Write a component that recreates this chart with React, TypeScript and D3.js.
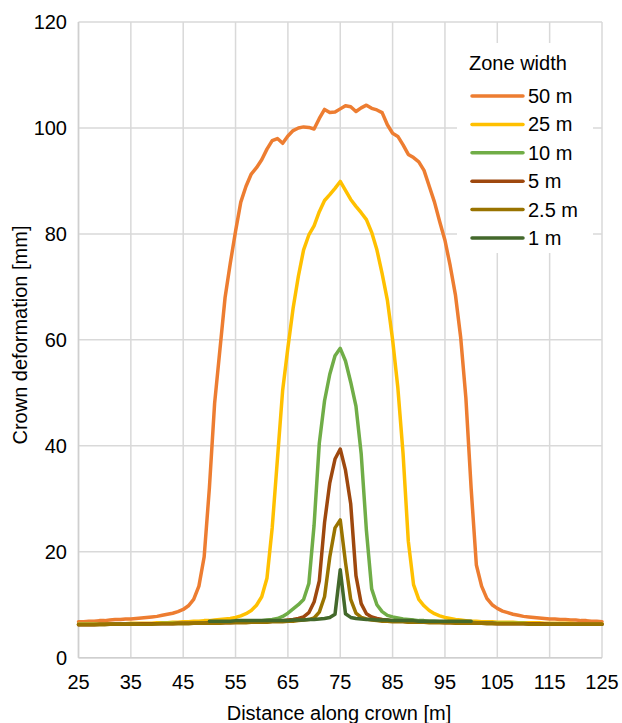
import React from "react";
import * as d3 from "d3";

const xStart = 25;
const xEnd = 125;
const xTicks = [25, 35, 45, 55, 65, 75, 85, 95, 105, 115, 125];
const yTicks = [0, 20, 40, 60, 80, 100, 120];
const seriesNames = ["50 m", "25 m", "10 m", "5 m", "2.5 m", "1 m"];
const seriesColors = ["#ED7D31", "#FFC000", "#70AD47", "#9E480E", "#997300", "#43682B"];

const v50 = [
  6.8, 6.8, 6.9, 6.9, 7.0, 7.0, 7.1, 7.2, 7.2, 7.3,
  7.3, 7.4, 7.5, 7.6, 7.7, 7.8, 8.0, 8.2, 8.4, 8.7,
  9.1, 9.8, 11.0, 13.5, 19.0, 32.0, 48.0, 58.0, 68.0, 74.5,
  80.5, 86.0, 89.0, 91.3, 92.5, 94.0, 96.0, 97.6, 98.0, 97.1,
  98.5, 99.5, 100.0, 100.2, 100.1, 99.8, 101.8, 103.5, 102.9, 103.0,
  103.6, 104.2, 104.0, 103.1, 103.8, 104.3, 103.7, 103.4, 102.9, 100.6,
  99.0, 98.4, 96.8, 95.0, 94.4, 93.6, 92.0, 89.0, 86.0, 82.3,
  78.8, 74.0, 68.5, 60.5, 49.0, 32.0, 17.5, 13.5, 11.2, 10.0,
  9.3, 8.8, 8.5, 8.2, 8.0, 7.8, 7.7, 7.6, 7.5, 7.4,
  7.3, 7.3, 7.2, 7.2, 7.1, 7.1, 7.0, 7.0, 6.9, 6.9,
  6.8,
];

const v25 = [
  6.3, 6.3, 6.3, 6.3, 6.4, 6.4, 6.4, 6.4, 6.4, 6.4,
  6.5, 6.5, 6.5, 6.5, 6.5, 6.6, 6.6, 6.6, 6.7, 6.7,
  6.8, 6.8, 6.9, 6.9, 7.0, 7.0, 7.1, 7.2, 7.3, 7.4,
  7.6, 7.9, 8.3, 8.9, 9.9, 11.5, 15.0, 24.5, 37.5, 50.5,
  58.5, 66.0, 72.0, 77.0, 79.8, 81.5, 84.2, 86.3, 87.4, 88.6,
  89.9, 88.2, 86.5, 85.2, 84.0, 82.7, 80.3, 77.0, 72.5, 67.5,
  60.0, 51.0, 38.5, 22.0, 13.8, 11.0, 9.8, 8.9, 8.3, 7.9,
  7.6, 7.4, 7.2, 7.1, 7.0, 6.9, 6.9, 6.8, 6.8, 6.8,
  6.7, 6.7, 6.7, 6.7, 6.6, 6.6, 6.6, 6.6, 6.6, 6.5,
  6.5, 6.5, 6.5, 6.5, 6.5, 6.4, 6.4, 6.4, 6.4, 6.4,
  6.4,
];

const v10 = [
  6.3, 6.3, 6.3, 6.3, 6.3, 6.3, 6.3, 6.4, 6.4, 6.4,
  6.4, 6.4, 6.4, 6.4, 6.4, 6.4, 6.5, 6.5, 6.5, 6.5,
  6.5, 6.5, 6.5, 6.6, 6.6, 6.6, 6.6, 6.6, 6.7, 6.7,
  6.7, 6.8, 6.8, 6.9, 6.9, 7.0, 7.1, 7.2, 7.4, 7.8,
  8.4, 9.2, 10.0, 11.0, 14.0, 25.0, 40.5, 48.5, 53.5, 57.0,
  58.4, 56.0, 52.0, 47.5, 38.5, 24.0, 13.0, 10.0, 8.7, 8.0,
  7.7, 7.5, 7.3, 7.2, 7.1, 7.0, 7.0, 6.9, 6.9, 6.8,
  6.8, 6.8, 6.7, 6.7, 6.7, 6.7, 6.6, 6.6, 6.6, 6.6,
  6.5, 6.5, 6.5, 6.5, 6.5, 6.5, 6.4, 6.4, 6.4, 6.4,
  6.4, 6.4, 6.4, 6.4, 6.3, 6.3, 6.3, 6.3, 6.3, 6.3,
  6.3,
];

const v5 = [
  6.2, 6.2, 6.2, 6.2, 6.3, 6.3, 6.3, 6.3, 6.3, 6.3,
  6.3, 6.3, 6.4, 6.4, 6.4, 6.4, 6.4, 6.4, 6.4, 6.5,
  6.5, 6.5, 6.5, 6.5, 6.5, 6.6, 6.6, 6.6, 6.6, 6.6,
  6.7, 6.7, 6.7, 6.7, 6.8, 6.8, 6.8, 6.9, 6.9, 7.0,
  7.1, 7.2, 7.4, 7.7, 8.5, 10.5, 14.5, 25.5, 33.0, 37.5,
  39.4, 35.4, 29.0, 15.5, 10.2, 8.3, 7.7, 7.4, 7.2, 7.1,
  7.0, 6.9, 6.9, 6.8, 6.8, 6.8, 6.7, 6.7, 6.7, 6.7,
  6.6, 6.6, 6.6, 6.6, 6.5, 6.5, 6.5, 6.5, 6.5, 6.5,
  6.4, 6.4, 6.4, 6.4, 6.4, 6.4, 6.4, 6.4, 6.4, 6.4,
  6.3, 6.3, 6.3, 6.3, 6.3, 6.3, 6.3, 6.3, 6.3, 6.3,
  6.3,
];

const v2_5 = [
  6.2, 6.2, 6.2, 6.2, 6.2, 6.2, 6.3, 6.3, 6.3, 6.3,
  6.3, 6.3, 6.3, 6.3, 6.3, 6.4, 6.4, 6.4, 6.4, 6.4,
  6.4, 6.4, 6.5, 6.5, 6.5, 6.5, 6.5, 6.5, 6.6, 6.6,
  6.6, 6.6, 6.6, 6.7, 6.7, 6.7, 6.7, 6.8, 6.8, 6.8,
  6.9, 6.9, 7.0, 7.1, 7.2, 7.5, 8.6, 11.5, 19.0, 24.5,
  26.0, 18.0, 11.0, 8.4, 7.6, 7.3, 7.1, 7.0, 6.9, 6.9,
  6.8, 6.8, 6.8, 6.7, 6.7, 6.7, 6.7, 6.6, 6.6, 6.6,
  6.6, 6.6, 6.5, 6.5, 6.5, 6.5, 6.5, 6.5, 6.4, 6.4,
  6.4, 6.4, 6.4, 6.4, 6.4, 6.4, 6.3, 6.3, 6.3, 6.3,
  6.3, 6.3, 6.3, 6.3, 6.3, 6.3, 6.3, 6.3, 6.3, 6.3,
  6.3,
];

const x1Start = 50;
const v1 = [
  6.9, 6.9, 6.9, 6.9, 6.9, 7.0, 7.0, 7.0, 7.0, 7.0,
  7.0, 7.0, 7.0, 7.0, 7.0, 7.0, 7.1, 7.1, 7.1, 7.2,
  7.2, 7.3, 7.4, 7.6, 8.2, 16.6, 8.3, 7.6, 7.4, 7.3,
  7.2, 7.2, 7.1, 7.1, 7.1, 7.0, 7.0, 7.0, 7.0, 7.0,
  6.9, 6.9, 6.9, 6.9, 6.9, 6.9, 6.9, 6.9, 6.9, 6.9,
  6.9,
];

const seriesValues = [v50, v25, v10, v5, v2_5, v1];
const seriesStarts = [xStart, xStart, xStart, xStart, xStart, x1Start];

const W = 622;
const H = 723;
const M = { left: 78.5, right: 602, top: 22, bottom: 657.7 };
const FONT = "'Liberation Sans', Arial, sans-serif";
const FS = 20;

export default function App() {
  const x = d3.scaleLinear().domain([xStart, xEnd]).range([M.left, M.right]);
  const y = d3.scaleLinear().domain([0, 120]).range([M.bottom, M.top]);
  const line = d3
    .line<[number, number]>()
    .x((d) => x(d[0]))
    .y((d) => y(d[1]));

  const legendX = 472;
  const legendY0 = 96;
  const legendDy = 28.4;

  return (
    <svg
      width={W}
      height={H}
      style={{ position: "absolute", left: 0, top: 0, background: "#fff" }}
      fontFamily={FONT}
    >
      <rect x={0} y={0} width={W} height={H} fill="#fff" />
      {xTicks.map((t) => (
        <line key={"gx" + t} x1={x(t)} x2={x(t)} y1={M.top} y2={M.bottom} stroke="#D9D9D9" strokeWidth={1.5} />
      ))}
      {yTicks.map((t) => (
        <line key={"gy" + t} x1={M.left} x2={M.right} y1={y(t)} y2={y(t)} stroke="#D9D9D9" strokeWidth={1.5} />
      ))}
      <line x1={M.left} x2={M.left} y1={M.top} y2={M.bottom} stroke="#CFCFCF" strokeWidth={1.5} />
      <line x1={M.left} x2={M.right} y1={M.bottom} y2={M.bottom} stroke="#CFCFCF" strokeWidth={1.5} />
      {seriesValues.map((vals, i) => {
        const pts: [number, number][] = vals.map((v, j) => [seriesStarts[i] + j, v]);
        return (
          <path
            key={"s" + i}
            d={line(pts) || ""}
            fill="none"
            stroke={seriesColors[i]}
            strokeWidth={3.5}
            strokeLinejoin="round"
            strokeLinecap="round"
          />
        );
      })}
      {yTicks.map((t) => (
        <text key={"ty" + t} x={67} y={y(t)} dy="0.35em" textAnchor="end" fontSize={FS} fill="#000">
          {t}
        </text>
      ))}
      {xTicks.map((t) => (
        <text key={"tx" + t} x={x(t)} y={682} dy="0.35em" textAnchor="middle" fontSize={FS} fill="#000">
          {t}
        </text>
      ))}
      <text x={339} y={713} dy="0.35em" textAnchor="middle" fontSize={FS} fill="#000">
        Distance along crown [m]
      </text>
      <text
        transform={`translate(20,${335}) rotate(-90)`}
        dy="0.35em"
        textAnchor="middle"
        fontSize={FS}
        fill="#000"
      >
        Crown deformation [mm]
      </text>
      <rect x={457} y={43} width={136} height={210} fill="#fff" />
      <text x={469} y={63} dy="0.35em" fontSize={FS} fill="#000">
        Zone width
      </text>
      {seriesNames.map((n, i) => (
        <g key={"lg" + i}>
          <line
            x1={legendX}
            x2={legendX + 51}
            y1={legendY0 + i * legendDy}
            y2={legendY0 + i * legendDy}
            stroke={seriesColors[i]}
            strokeWidth={3.5}
            strokeLinecap="round"
          />
          <text x={legendX + 56} y={legendY0 + i * legendDy} dy="0.35em" fontSize={FS} fill="#000">
            {n}
          </text>
        </g>
      ))}
    </svg>
  );
}
